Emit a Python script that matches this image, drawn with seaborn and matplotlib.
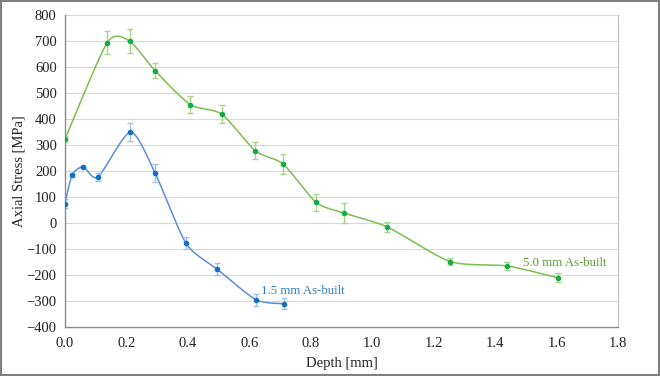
import numpy as np
import pandas as pd
import matplotlib
matplotlib.use("Agg")
import matplotlib.pyplot as plt
import seaborn as sns

sns.set_theme(style="whitegrid")
plt.rcParams['font.family'] = ['Liberation Serif', 'DejaVu Serif']

# Data
depth_15 = [0.0, 0.023, 0.059, 0.107, 0.213, 0.293, 0.394, 0.495, 0.622, 0.713]
stress_15 = [75, 185, 216, 177, 350, 193, -78, -177, -295, -310]
err_15 = [18, 8, 5, 15, 36, 36, 23, 24, 22, 22]

depth_50 = [0.0, 0.137, 0.21, 0.293, 0.407, 0.51, 0.619, 0.71, 0.817, 0.909, 1.049, 1.254, 1.44, 1.603]
stress_50 = [323, 693, 700, 586, 456, 419, 278, 227, 80, 38, -15, -148, -165, -210]
err_50 = [10, 44, 45, 28, 33, 35, 32, 38, 32, 38, 21, 12, 15, 18]


def smooth(x, y, k=0.12, n=30):
    # Excel-style smoothed line: cubic Bezier through the points
    x = np.asarray(x, float)
    y = np.asarray(y, float)
    px = np.concatenate([[x[0]], x, [x[-1]]])
    py = np.concatenate([[y[0]], y, [y[-1]]])
    t = np.linspace(0, 1, n)[:, None]
    pts = []
    for i in range(1, len(px) - 2):
        p0 = np.array([px[i - 1], py[i - 1]])
        p1 = np.array([px[i], py[i]])
        p2 = np.array([px[i + 1], py[i + 1]])
        p3 = np.array([px[i + 2], py[i + 2]])
        c1 = p1 + k * (p2 - p0)
        c2 = p2 - k * (p3 - p1)
        seg = ((1 - t) ** 3 * p1 + 3 * (1 - t) ** 2 * t * c1
               + 3 * (1 - t) * t ** 2 * c2 + t ** 3 * p2)
        pts.append(seg)
    pts = np.vstack(pts)
    return pts[:, 0], pts[:, 1]


fig = plt.figure(figsize=(6.6, 3.76), dpi=100)
ax = fig.add_axes([0.0985, 0.130, 0.838, 0.830])

series = [
    (depth_15, stress_15, err_15, "#5B8EDB", "#0F6FC6", "#9EC2EA"),
    (depth_50, stress_50, err_50, "#7DBF4E", "#12AD48", "#A8D58A"),
]
for d, s, e, lc, mc, ec in series:
    sx, sy = smooth(d, s)
    sns.lineplot(x=sx, y=sy, ax=ax, color=lc, linewidth=1.1, sort=False)
    ax.errorbar(d, s, yerr=e, fmt="none", ecolor=ec, elinewidth=1.0, capsize=2.5, capthick=1.0)
    sns.scatterplot(x=d, y=s, ax=ax, color=mc, s=16, edgecolor=mc, linewidth=0, zorder=5)

ax.set_xlim(0, 1.8)
ax.set_ylim(-400, 800)
ax.set_xticks(np.arange(0, 1.81, 0.2))
ax.set_xticklabels([f"{v:.1f}" for v in np.arange(0, 1.81, 0.2)])
ax.set_yticks(np.arange(-400, 801, 100))
ax.grid(axis="y", color="#D9D9D9", linewidth=0.8)
ax.grid(axis="x", visible=False)
ax.set_facecolor("white")
ax.spines["top"].set_visible(False)
for side in ["left", "bottom"]:
    ax.spines[side].set_color("#8C8C8C")
    ax.spines[side].set_linewidth(1.0)
ax.spines["right"].set_color("#BFBFBF")
ax.spines["right"].set_linewidth(0.8)
ax.tick_params(axis="both", which="both", direction="out", length=4, width=0.8,
               color="#8C8C8C", labelsize=10.5, labelcolor="#222222", pad=3)
ax.tick_params(axis="y", length=3)

ax.set_xlabel("Depth [mm]", fontsize=10.5, color="#222222", labelpad=5)
ax.set_ylabel("Axial Stress [MPa]", fontsize=10.5, color="#222222", labelpad=1)

ax.text(0.638, -262, "1.5 mm As-built", color="#2F7BC8", fontsize=9.2, ha="left", va="center")
ax.text(1.49, -152, "5.0 mm As-built", color="#5C9A3A", fontsize=9.2, ha="left", va="center")

fig.patches.append(plt.Rectangle((0.002, 0.003), 0.996, 0.994, transform=fig.transFigure,
                                 fill=False, edgecolor="#7F7F7F", linewidth=1.5))

fig.savefig("out.png", dpi=100)
